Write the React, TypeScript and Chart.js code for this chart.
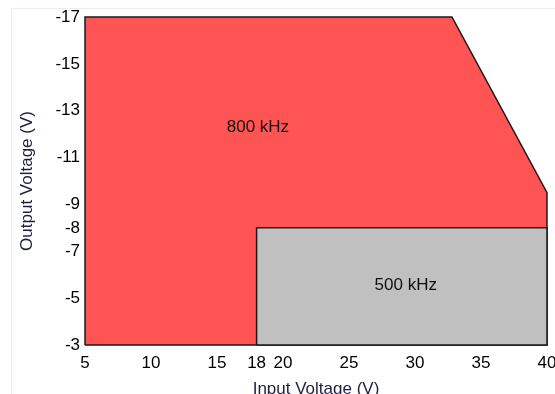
import React, { useEffect, useRef } from "react";
import { Chart, registerables } from "chart.js";

Chart.register(...registerables);

// Data
const xTicks = [5, 10, 15, 18, 20, 25, 30, 35, 40];
const yTicks = [-3, -5, -7, -8, -9, -11, -13, -15, -17];

// 800 kHz region (outline, closed)
const region800X = [5, 5, 32.8, 40, 40, 5];
const region800Y = [-3, -17, -17, -9.5, -3, -3];

// 500 kHz region (outline, closed)
const region500X = [18, 18, 40, 40, 18];
const region500Y = [-3, -8, -8, -3, -3];

const regionLabels = ["800 kHz", "500 kHz"];
const labelX = [18.1, 29.3];
const labelY = [-12.3, -5.55];

const FONT = "'Liberation Sans', Arial, sans-serif";

const toPoints = (xs: number[], ys: number[]) => xs.map((x, i) => ({ x, y: ys[i] }));

const labelPlugin = {
  id: "regionLabels",
  afterDatasetsDraw(chart: any) {
    const { ctx, scales } = chart;
    ctx.save();
    ctx.font = `17px ${FONT}`;
    ctx.fillStyle = "#111";
    ctx.textAlign = "center";
    ctx.textBaseline = "middle";
    regionLabels.forEach((t, i) => {
      ctx.fillText(t, scales.x.getPixelForValue(labelX[i]), scales.y.getPixelForValue(labelY[i]));
    });
    ctx.restore();
  },
};

export default function App() {
  const ref = useRef<HTMLCanvasElement | null>(null);

  useEffect(() => {
    if (!ref.current) return;
    const chart = new Chart(ref.current, {
      type: "scatter",
      data: {
        datasets: [
          {
            label: "500 kHz",
            data: toPoints(region500X, region500Y),
            showLine: true,
            fill: "shape",
            backgroundColor: "#c0c0c0",
            borderColor: "#1a1a1a",
            borderWidth: 1.5,
            pointRadius: 0,
            tension: 0,
            clip: 4,
          } as any,
          {
            label: "800 kHz",
            data: toPoints(region800X, region800Y),
            showLine: true,
            fill: "shape",
            backgroundColor: "#ff5454",
            borderColor: "#1a1a1a",
            borderWidth: 1.5,
            pointRadius: 0,
            tension: 0,
            clip: 4,
          } as any,
        ],
      },
      options: {
        responsive: false,
        animation: false,
        layout: { padding: { left: 0, top: 17, right: 8, bottom: 0 } },
        plugins: {
          legend: { display: false },
          tooltip: { enabled: false },
          filler: { drawTime: "beforeDatasetDraw" },
        } as any,
        scales: {
          x: {
            type: "linear",
            min: 5,
            max: 40,
            afterBuildTicks: (s: any) => {
              s.ticks = xTicks.map((v) => ({ value: v }));
            },
            afterFit: (s: any) => {
              s.height = 55;
              s.paddingLeft = 0;
              s.paddingRight = 0;
            },
            grid: { display: false, drawTicks: false },
            border: { display: false },
            ticks: {
              autoSkip: false,
              maxRotation: 0,
              padding: 8,
              color: "#000",
              font: { family: FONT, size: 17 },
            },
            title: {
              display: true,
              text: "Input Voltage (V)",
              color: "#1e1e40",
              font: { family: FONT, size: 17 },
              padding: { top: 0, bottom: 0 },
            },
          },
          y: {
            type: "linear",
            min: -17,
            max: -3,
            reverse: true,
            afterBuildTicks: (s: any) => {
              s.ticks = yTicks.map((v) => ({ value: v }));
            },
            afterFit: (s: any) => {
              s.width = 85;
              s.paddingTop = 0;
              s.paddingBottom = 0;
            },
            grid: { display: false, drawTicks: false },
            border: { display: false },
            ticks: {
              autoSkip: false,
              padding: 5,
              color: "#000",
              font: { family: FONT, size: 17 },
            },
            title: {
              display: true,
              text: "Output Voltage (V)",
              color: "#1e1e40",
              font: { family: FONT, size: 17 },
              padding: { top: 17, bottom: 0 },
            },
          },
        },
      },
      plugins: [labelPlugin],
    });
    return () => chart.destroy();
  }, []);

  return (
    <div
      style={{
        position: "fixed",
        left: 0,
        top: 0,
        width: 555,
        height: 394,
        overflow: "hidden",
        background: "#fff",
      }}
    >
      <div
        style={{
          position: "absolute",
          left: 11,
          top: 8,
          width: 700,
          height: 500,
          borderLeft: "1px solid #e8edf5",
          borderTop: "1px solid #e8edf5",
        }}
      />
      <canvas
        ref={ref}
        width={555}
        height={400}
        style={{ position: "absolute", left: 0, top: 0, width: 555, height: 400 }}
      />
    </div>
  );
}
